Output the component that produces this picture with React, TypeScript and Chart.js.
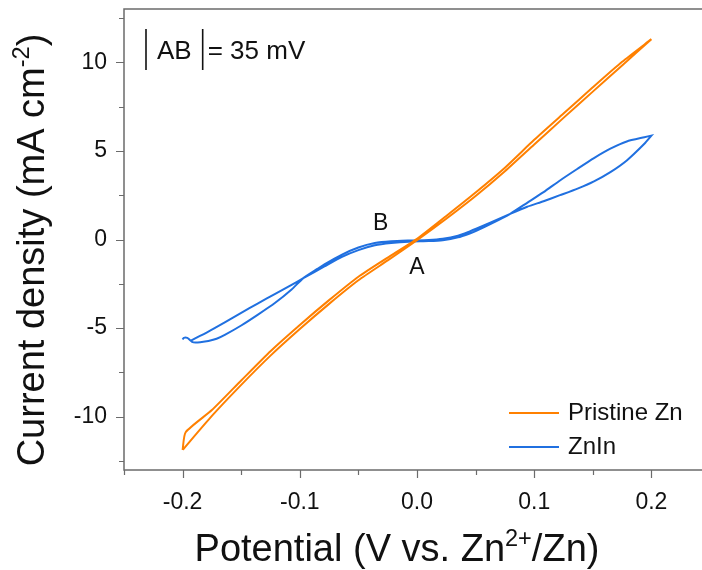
import React, { useEffect, useRef } from 'react';
import { Chart, registerables } from 'chart.js';

Chart.register(...registerables);

// Pristine Zn: anodic sweep (-0.2 V -> 0.2 V) and cathodic sweep back
const pristineAnodicV = [-0.2, -0.175, -0.15, -0.125, -0.1, -0.075, -0.05, -0.025, 0, 0.025, 0.05, 0.075, 0.1, 0.125, 0.15, 0.175, 0.2];
const pristineAnodicJ = [-11.87, -9.95, -8.2, -6.55, -5.05, -3.63, -2.3, -1.18, -0.04, 1.17, 2.45, 3.85, 5.36, 6.86, 8.34, 9.82, 11.3];
const pristineCathodicV = [0.2, 0.175, 0.15, 0.125, 0.1, 0.075, 0.05, 0.025, 0, -0.025, -0.05, -0.075, -0.1, -0.125, -0.15, -0.175, -0.1974, -0.2];
const pristineCathodicJ = [11.3, 10.02, 8.58, 7.1, 5.62, 4.05, 2.65, 1.33, 0.04, -1.02, -2.1, -3.42, -4.82, -6.3, -7.95, -9.62, -10.87, -11.87];

// ZnIn: anodic sweep and cathodic sweep
const znInAnodicV = [-0.2, -0.199, -0.196, -0.194, -0.192, -0.189, -0.185, -0.178, -0.171, -0.164, -0.15, -0.136, -0.121, -0.107, -0.097, -0.085, -0.079, -0.064, -0.05, -0.036, -0.022, -0.007, 0.01, 0.022, 0.035, 0.045, 0.051, 0.063, 0.0795, 0.094, 0.108, 0.122, 0.137, 0.151, 0.165, 0.179, 0.194, 0.2];
const znInAnodicJ = [-5.64, -5.55, -5.55, -5.66, -5.77, -5.81, -5.79, -5.72, -5.6, -5.38, -4.85, -4.25, -3.57, -2.82, -2.18, -1.66, -1.4, -0.85, -0.45, -0.2, -0.1, -0.06, -0.03, 0.04, 0.22, 0.46, 0.62, 0.96, 1.45, 1.85, 2.16, 2.5, 2.87, 3.28, 3.8, 4.46, 5.4, 5.86];
const znInCathodicV = [0.2, 0.194, 0.179, 0.165, 0.151, 0.137, 0.122, 0.108, 0.094, 0.0795, 0.063, 0.051, 0.045, 0.035, 0.022, 0.01, -0.007, -0.022, -0.036, -0.05, -0.064, -0.079, -0.097, -0.107, -0.121, -0.136, -0.15, -0.164, -0.178, -0.193];
const znInCathodicJ = [5.86, 5.77, 5.53, 5.12, 4.59, 3.99, 3.33, 2.67, 2.07, 1.45, 0.88, 0.5, 0.34, 0.12, -0.04, -0.09, -0.12, -0.2, -0.33, -0.6, -0.98, -1.52, -2.18, -2.56, -3.07, -3.61, -4.14, -4.67, -5.19, -5.7];

const seriesNames = ['Pristine Zn', 'ZnIn'];
const seriesColors = ['#FF8000', '#2070E0'];

const xMajorTicks = [-0.2, -0.1, 0, 0.1, 0.2];
const xMinorTicks = [-0.25, -0.15, -0.05, 0.05, 0.15, 0.25];
const yMajorTicks = [-10, -5, 0, 5, 10];
const yMinorTicks = [-12.5, -7.5, -2.5, 2.5, 7.5, 12.5];

// Points A and B and the stated peak separation
const pointLabels = ['A', 'B'];
const pointLabelV = [0.0, -0.031];
const pointLabelJ = [-1.6, 0.89];
const separationText = '= 35 mV';

const FONT = "'Liberation Sans', Arial, sans-serif";
const AXIS_COLOR = '#6b6b6b';

const zip = (v: number[], j: number[]) => v.map((x, i) => ({ x, y: j[i] }));
const isIn = (list: number[], v: number) => list.some((m) => Math.abs(m - v) < 1e-9);

type Part = { text: string; sup?: boolean };

function drawRich(ctx: CanvasRenderingContext2D, parts: Part[], size: number, x: number, y: number) {
  const supSize = size * 0.62;
  const widths = parts.map((p) => {
    ctx.font = `${p.sup ? supSize : size}px ${FONT}`;
    return ctx.measureText(p.text).width;
  });
  const total = widths.reduce((a, b) => a + b, 0);
  let cx = x - total / 2;
  ctx.textAlign = 'left';
  ctx.textBaseline = 'alphabetic';
  parts.forEach((p, i) => {
    ctx.font = `${p.sup ? supSize : size}px ${FONT}`;
    ctx.fillText(p.text, cx, p.sup ? y - size * 0.4 : y);
    cx += widths[i];
  });
}

const decorPlugin = {
  id: 'decor',
  afterDraw(chart: any) {
    const { ctx, chartArea, scales } = chart;
    const { left, right, top, bottom } = chartArea;
    const xs = scales.x;
    const ys = scales.y;
    ctx.save();

    // frame
    ctx.strokeStyle = AXIS_COLOR;
    ctx.lineWidth = 1.5;
    ctx.strokeRect(left, top, right - left, bottom - top);

    // tick marks, outward
    ctx.lineWidth = 1.2;
    ctx.beginPath();
    [...xMajorTicks, ...xMinorTicks].forEach((v) => {
      const px = Math.round(xs.getPixelForValue(v)) + 0.5;
      const len = isIn(xMajorTicks, v) ? 8 : 5;
      ctx.moveTo(px, bottom);
      ctx.lineTo(px, bottom + len);
    });
    [...yMajorTicks, ...yMinorTicks].forEach((v) => {
      const py = Math.round(ys.getPixelForValue(v)) + 0.5;
      const len = isIn(yMajorTicks, v) ? 8 : 5;
      ctx.moveTo(left, py);
      ctx.lineTo(left - len, py);
    });
    ctx.stroke();

    ctx.fillStyle = '#111';

    // axis titles
    drawRich(ctx, [{ text: 'Potential (V vs. Zn' }, { text: '2+', sup: true }, { text: '/Zn)' }], 38, left + 273, 561);
    ctx.save();
    ctx.translate(44, 250);
    ctx.rotate(-Math.PI / 2);
    drawRich(ctx, [{ text: 'Current density (mA cm' }, { text: '-2', sup: true }, { text: ')' }], 38, 0, 0);
    ctx.restore();

    // A / B point labels
    ctx.font = `23px ${FONT}`;
    ctx.textAlign = 'center';
    ctx.textBaseline = 'middle';
    pointLabels.forEach((t, i) => {
      ctx.fillText(t, xs.getPixelForValue(pointLabelV[i]), ys.getPixelForValue(pointLabelJ[i]));
    });

    // |AB| = 35 mV
    const ax = left + 22;
    const base = top + 50;
    ctx.strokeStyle = '#111';
    ctx.lineWidth = 1.6;
    ctx.font = `26px ${FONT}`;
    ctx.textAlign = 'left';
    ctx.textBaseline = 'alphabetic';
    const abW = ctx.measureText('AB').width;
    ctx.beginPath();
    ctx.moveTo(ax, base - 30);
    ctx.lineTo(ax, base + 11);
    ctx.moveTo(ax + abW + 22, base - 30);
    ctx.lineTo(ax + abW + 22, base + 11);
    ctx.stroke();
    ctx.fillText('AB', ax + 11, base);
    ctx.fillText(separationText, ax + abW + 27, base);

    // legend
    ctx.font = `24px ${FONT}`;
    ctx.textBaseline = 'middle';
    seriesNames.forEach((name, i) => {
      const y = bottom - 57 + i * 34;
      const lx = right - 201;
      ctx.strokeStyle = seriesColors[i];
      ctx.lineWidth = 2;
      ctx.beginPath();
      ctx.moveTo(lx, y);
      ctx.lineTo(lx + 50, y);
      ctx.stroke();
      ctx.fillStyle = '#111';
      ctx.fillText(name, lx + 59, y);
    });

    ctx.restore();
  },
};

export default function App() {
  const ref = useRef<HTMLCanvasElement>(null);

  useEffect(() => {
    const canvas = ref.current;
    if (!canvas) return;
    const chart = new Chart(canvas, {
      type: 'scatter',
      data: {
        datasets: [
          {
            label: seriesNames[0],
            data: [...zip(pristineAnodicV, pristineAnodicJ), ...zip(pristineCathodicV, pristineCathodicJ)],
            showLine: true,
            borderColor: seriesColors[0],
            borderWidth: 2,
            pointRadius: 0,
            tension: 0.2,
          },
          {
            label: seriesNames[1],
            data: [...zip(znInAnodicV, znInAnodicJ), ...zip(znInCathodicV, znInCathodicJ)],
            showLine: true,
            borderColor: seriesColors[1],
            borderWidth: 2,
            pointRadius: 0,
            tension: 0.2,
          },
        ],
      },
      options: {
        animation: false,
        responsive: false,
        devicePixelRatio: 1,
        layout: { padding: { top: 9, right: 2, bottom: 0, left: 0 } },
        plugins: { legend: { display: false }, tooltip: { enabled: false } },
        scales: {
          x: {
            type: 'linear',
            min: -0.25,
            max: 0.25,
            grid: { display: false, drawTicks: false },
            border: { display: false },
            afterBuildTicks: (scale: any) => {
              scale.ticks = [...xMajorTicks, ...xMinorTicks].sort((a, b) => a - b).map((value) => ({ value }));
            },
            afterFit: (scale: any) => {
              scale.height = 100;
              scale.paddingLeft = 0;
              scale.paddingRight = 0;
            },
            ticks: {
              autoSkip: false,
              maxRotation: 0,
              padding: 19,
              color: '#111',
              font: { family: FONT, size: 23 },
              callback: (v: any) => (isIn(xMajorTicks, Number(v)) ? Number(v).toFixed(1) : ''),
            },
          },
          y: {
            type: 'linear',
            min: -13,
            max: 13,
            grid: { display: false, drawTicks: false },
            border: { display: false },
            afterBuildTicks: (scale: any) => {
              scale.ticks = [...yMajorTicks, ...yMinorTicks].sort((a, b) => a - b).map((value) => ({ value }));
            },
            afterFit: (scale: any) => {
              scale.width = 124;
              scale.paddingTop = 0;
              scale.paddingBottom = 0;
            },
            ticks: {
              autoSkip: false,
              padding: 17,
              color: '#111',
              font: { family: FONT, size: 23 },
              callback: (v: any) => (isIn(yMajorTicks, Number(v)) ? String(v) : ''),
            },
          },
        },
      },
      plugins: [decorPlugin],
    });
    return () => chart.destroy();
  }, []);

  return (
    <div style={{ position: 'fixed', left: 0, top: 0, width: 702, height: 570, overflow: 'hidden', background: '#fff' }}>
      <canvas ref={ref} width={712} height={570} style={{ display: 'block', width: 712, height: 570 }} />
    </div>
  );
}
